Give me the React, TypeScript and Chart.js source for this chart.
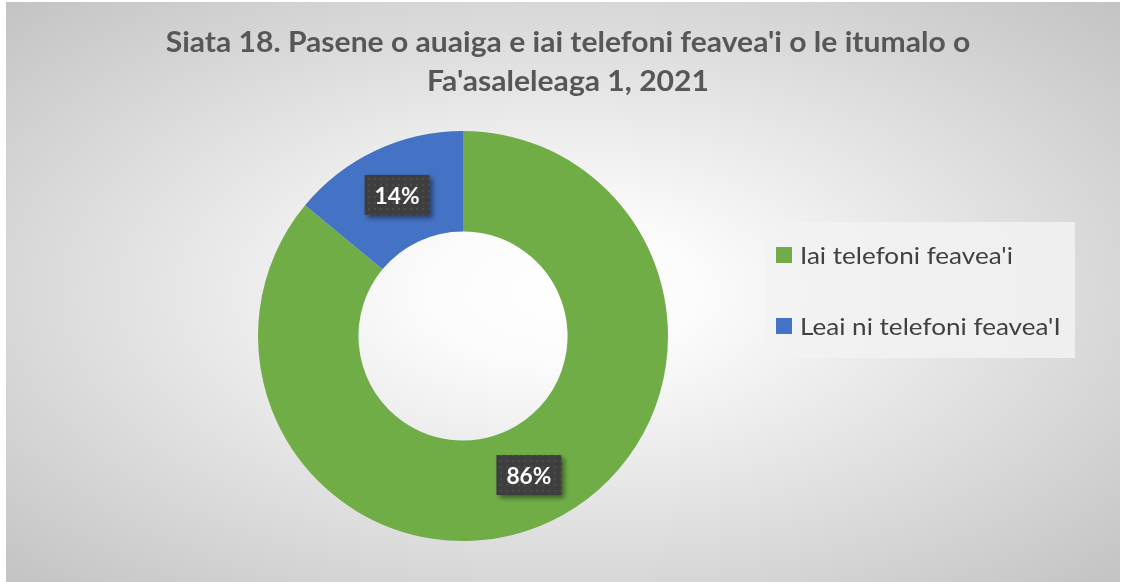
import React, { useEffect, useRef } from "react";
import { Chart, registerables } from "chart.js";

Chart.register(...registerables);

const titleLines = ["Siata 18. Pasene o auaiga e iai telefoni feavea'i o le itumalo o", "Fa'asaleleaga 1, 2021"];
const categories = ["Iai telefoni feavea'i", "Leai ni telefoni feavea'I"];
const values = [86, 14];
const colors = ["#70ad47", "#4472c4"];

const FONT = "Lato, 'Open Sans', sans-serif";

function fitSize(ctx: CanvasRenderingContext2D, text: string, weight: string, target: number) {
  ctx.font = `${weight} 100px ${FONT}`;
  const w = ctx.measureText(text).width;
  return (100 * target) / w;
}

function capScale(ctx: CanvasRenderingContext2D, targetCap: number) {
  const m = ctx.measureText("H");
  const cap = m.actualBoundingBoxAscent || 1;
  return targetCap / cap;
}

function drawScaled(ctx: CanvasRenderingContext2D, text: string, x: number, y: number, sy: number) {
  ctx.save();
  ctx.translate(x, y);
  ctx.scale(1, sy);
  ctx.fillText(text, 0, 0);
  ctx.restore();
}

function makePattern(ctx: CanvasRenderingContext2D) {
  const c = document.createElement("canvas");
  c.width = 6;
  c.height = 6;
  const p = c.getContext("2d")!;
  p.fillStyle = "#3e3e3e";
  p.fillRect(0, 0, 6, 6);
  p.fillStyle = "#4c4c4c";
  p.fillRect(2, 2, 2, 2);
  return ctx.createPattern(c, "repeat")!;
}

const decorPlugin = {
  id: "decor",
  afterDraw(chart: any) {
    const ctx: CanvasRenderingContext2D = chart.ctx;
    ctx.save();
    ctx.textBaseline = "alphabetic";

    // Title
    const ts = fitSize(ctx, titleLines[0], "bold", 805);
    ctx.font = `bold ${ts}px ${FONT}`;
    const tsy = capScale(ctx, 21);
    ctx.fillStyle = "#575757";
    ctx.textAlign = "center";
    drawScaled(ctx, titleLines[0], 562, 50, tsy);
    drawScaled(ctx, titleLines[1], 562, 89, tsy);

    // Legend
    ctx.fillStyle = "rgba(242,242,242,0.85)";
    ctx.fillRect(760, 220, 309, 136);
    const ls = fitSize(ctx, categories[0], "normal", 213);
    ctx.font = `normal ${ls}px ${FONT}`;
    const lsy = capScale(ctx, 16.5);
    ctx.textAlign = "left";
    const ys = [245, 316];
    categories.forEach((c, i) => {
      ctx.fillStyle = colors[i];
      ctx.fillRect(770, ys[i], 16, 16);
      ctx.fillStyle = "#404040";
      drawScaled(ctx, c, 794, ys[i] + 17, lsy);
    });

    // Data labels
    const meta = chart.getDatasetMeta(0);
    const total = values.reduce((a, b) => a + b, 0);
    const pattern = makePattern(ctx);
    const fs = fitSize(ctx, "14%", "bold", 45);
    ctx.font = `bold ${fs}px ${FONT}`;
    const fsy = capScale(ctx, 16.5);
    meta.data.forEach((arc: any, i: number) => {
      const pos = arc.tooltipPosition();
      const text = Math.round((values[i] / total) * 100) + "%";
      ctx.font = `bold ${fs}px ${FONT}`;
      const tw = ctx.measureText(text).width;
      const bw = tw + 20;
      const bh = 40;
      const bx = pos.x - bw / 2;
      const by = pos.y - bh / 2 - 1;
      ctx.save();
      ctx.shadowColor = "rgba(0,0,0,0.45)";
      ctx.shadowBlur = 5;
      ctx.shadowOffsetX = 3;
      ctx.shadowOffsetY = 3;
      ctx.fillStyle = pattern;
      ctx.fillRect(bx, by, bw, bh);
      ctx.restore();
      ctx.fillStyle = "#ffffff";
      ctx.textAlign = "center";
      drawScaled(ctx, text, pos.x, pos.y + 8, fsy);
    });
    ctx.restore();
  },
};

export default function App() {
  const ref = useRef<HTMLCanvasElement>(null);
  useEffect(() => {
    const chart = new Chart(ref.current!, {
      type: "doughnut",
      data: {
        labels: categories,
        datasets: [
          {
            data: values,
            backgroundColor: colors,
            borderWidth: 0,
          },
        ],
      },
      options: {
        animation: false,
        responsive: true,
        maintainAspectRatio: false,
        cutout: "51%",
        layout: { padding: { left: 252, right: 452, top: 129, bottom: 41 } },
        plugins: {
          legend: { display: false },
          title: { display: false },
          tooltip: { enabled: false },
        },
      },
      plugins: [decorPlugin],
    });
    return () => chart.destroy();
  }, []);
  return (
    <div
      style={{
        position: "fixed",
        left: 6,
        top: 2,
        width: 1114,
        height: 580,
        background: "radial-gradient(ellipse farthest-corner at 50% 50%, #ffffff 0%, #fbfbfb 18%, #ececec 40%, #c3c3c3 100%)",
      }}
    >
      <canvas ref={ref} />
    </div>
  );
}
